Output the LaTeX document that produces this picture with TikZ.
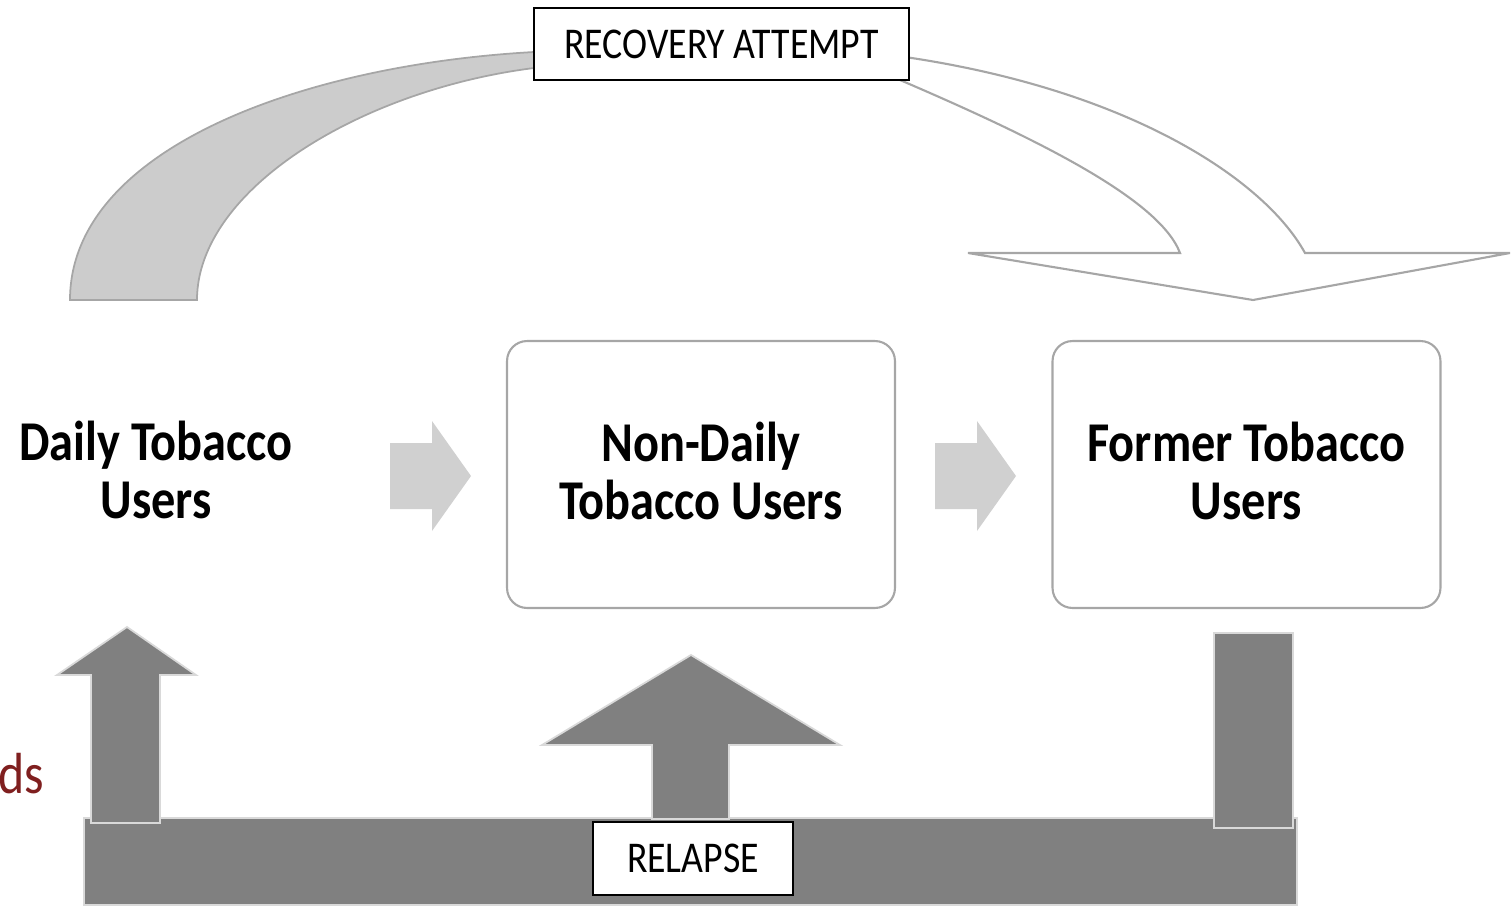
\documentclass[tikz,border=0pt]{standalone}
\usepackage{fontspec}
\setmainfont{Carlito}[FakeStretch=0.86]
\usetikzlibrary{positioning, calc}
\definecolor{band}{HTML}{CCCCCC}
\definecolor{rim}{HTML}{A6A6A6}
\definecolor{chev}{HTML}{D0D0D0}
\definecolor{dark}{HTML}{808080}
\definecolor{pale}{HTML}{D9D9D9}
\definecolor{wine}{HTML}{7F1F1F}

\begin{document}
\begin{tikzpicture}[x=0.02cm, y=-0.02cm,
  lbl/.style={draw=black, line width=1.6pt, fill=white, inner sep=0pt,
              font=\fontsize{25}{30}\selectfont},
  grp/.style={align=center, font=\bfseries\fontsize{32}{33}\selectfont},
  box/.style={draw=rim, line width=1.2pt, rounded corners=0.4cm,
              minimum width=7.76cm, minimum height=5.34cm},
  lt/.style={fill=band, draw=rim, line width=1pt},
  ol/.style={fill=white, draw=rim, line width=1.2pt},
  ch/.style={fill=chev, draw=none},
  dk/.style={fill=dark, draw=pale, line width=1pt}]
\useasboundingbox (0,0) rectangle (1512,907);

\draw[lt] (70,300) .. controls (70,150) and (300,65) .. (534,52)
  -- (534,68) .. controls (360,90) and (197,190) .. (197,300) -- cycle;
\draw[ol] (905,57) .. controls (1130,90) and (1265,180) .. (1305,253)
  -- (1510,253) -- (1253,300) -- (968,253) -- (1180,253)
  .. controls (1160,200) and (1040,140) .. (900,80) -- cycle;
\node[lbl, minimum width=7.5cm, minimum height=1.44cm] (rec) at (721.5,44) {RECOVERY ATTEMPT};

\node[grp] (daily) at (156,470) {Daily Tobacco\\Users};
\node[box] (nondaily) at (701,474.5) {};
\node[box] (former) at (1246.5,474.5) {};
\node[grp] (ndtext) at ($(nondaily)+(0,-4)$) {Non-Daily\\Tobacco Users};
\node[grp] (fmtext) at ($(former)+(0,-4)$) {Former Tobacco\\Users};

\draw[ch] (390,443) -- (432,443) -- (432,421) -- (471,476) -- (432,531) -- (432,509) -- (390,509) -- cycle;
\draw[ch] (935,443) -- (977,443) -- (977,421) -- (1016,476) -- (977,531) -- (977,509) -- (935,509) -- cycle;

\node[anchor=base east, text=wine, font=\fontsize{33}{36}\selectfont] (ds) at (50,793) {ds};

\draw[dk] (84,818) rectangle (1297,905);
\draw[dk] (652,819) -- (652,745) -- (542,745) -- (691,655) -- (840,745) -- (729,745) -- (729,819) -- cycle;
\draw[dk] (91,823) -- (91,675) -- (57,675) -- (127,627) -- (196,675) -- (160,675) -- (160,823) -- cycle;
\draw[dk] (1214,633) rectangle (1293,828);
\node[lbl, minimum width=4cm, minimum height=1.46cm] (rel) at (693,858.5) {RELAPSE};
\end{tikzpicture}
\end{document}
